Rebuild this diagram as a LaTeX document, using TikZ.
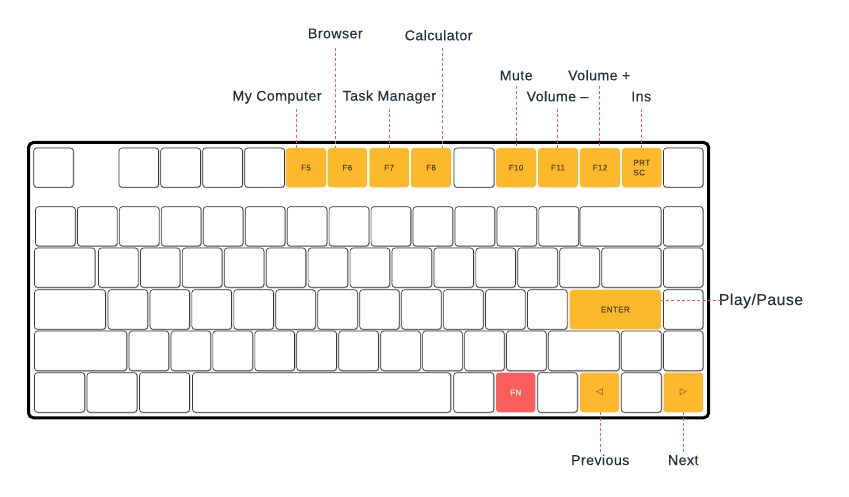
\documentclass[tikz,border=0pt]{standalone}
\usepackage{fontspec}
\setmainfont{Liberation Sans}
\newfontfamily\lblfont[LetterSpace=3,FakeBold=0.12]{Liberation Sans}
\newfontfamily\keyfont[LetterSpace=5,FakeBold=0.45]{Liberation Sans}
\newfontfamily\symfont{DejaVu Sans}
\definecolor{keyorange}{HTML}{FDB92C}
\definecolor{keyred}{HTML}{FB5C5C}
\definecolor{keyedge}{HTML}{3A3A3A}
\definecolor{keyshade}{HTML}{ABABAB}
\definecolor{dashred}{HTML}{DE5F5F}
\definecolor{lbltext}{HTML}{2A2E3A}
\definecolor{captext}{HTML}{54400F}
\tikzset{
  keybase/.style={rectangle,rounded corners=3pt,inner sep=0pt,outer sep=0pt,align=left,
    font=\keyfont\fontsize{8}{10}\selectfont,text=captext},
  plainkey/.style={keybase,fill=white,draw=keyedge,line width=.65pt,
    preaction={draw=keyshade,line width=1.2pt,transform canvas={xshift=.35pt,yshift=-.35pt}}},
  fnkey/.style={keybase,fill=keyorange},
  redkey/.style={keybase,fill=keyred,text=white},
  lbl/.style={anchor=base,inner sep=0pt,outer sep=0pt,text=lbltext,font=\lblfont\fontsize{14.2}{14}\selectfont},
  biglbl/.style={lbl,font=\lblfont\fontsize{15.8}{16}\selectfont},
  conn/.style={draw=dashred,line width=.75pt,dash pattern=on 3pt off 2.2pt},
  frame/.style={draw=black,line width=3pt,rounded corners=5pt},
}
\newcommand{\kc}[7]{\node[#6,minimum width={(#3-(#2))*1pt},minimum height={(#5-(#4))*1pt}] (#1) at ({(#2+#3)/2},{(#4+#5)/2}) {#7};}
\begin{document}
\begin{tikzpicture}[x=1pt,y=-1pt]
\useasboundingbox (0,0) rectangle (849,497);
\fill[white] (0,0) rectangle (849,497);
\draw[frame] (28.5,142.5) rectangle (708.7,417.8);
% function row
\kc{esc}{33.7}{73.3}{148}{187.3}{plainkey}{}
\kc{fa}{119}{158.5}{148}{187.3}{plainkey}{}
\kc{fb}{160.7}{200.5}{148}{187.3}{plainkey}{}
\kc{fc}{202.7}{242.5}{148}{187.3}{plainkey}{}
\kc{fd}{244.7}{284.5}{148}{187.3}{plainkey}{}
\kc{ffive}{286}{326}{148}{187.3}{fnkey}{F5}
\kc{fsix}{327.7}{367}{148}{187.3}{fnkey}{F6}
\kc{fseven}{369.3}{409}{148}{187.3}{fnkey}{F7}
\kc{feight}{411}{451}{148}{187.3}{fnkey}{F8}
\kc{fnine}{454}{494}{148}{187.3}{plainkey}{}
\kc{ften}{496}{536}{148}{187.3}{fnkey}{F10}
\kc{feleven}{538}{578}{148}{187.3}{fnkey}{F11}
\kc{ftwelve}{580}{620}{148}{187.3}{fnkey}{F12}
\kc{prt}{622}{661.5}{148}{187.3}{fnkey}{PRT\\SC}
\kc{fend}{663.5}{703}{148}{187.3}{plainkey}{}
% number row
\foreach \i in {0,...,12}{\pgfmathsetmacro\xa{35.5+41.95*\i}
  \kc{ra\i}{\xa}{\xa+39.7}{206.7}{246}{plainkey}{}}
\kc{rawide}{580}{661}{206.7}{246}{plainkey}{}
\kc{raend}{663.5}{703}{206.7}{246}{plainkey}{}
% second row
\kc{rbtab}{34.5}{95}{248}{287.3}{plainkey}{}
\foreach \i in {0,...,11}{\pgfmathsetmacro\xa{98.5+41.93*\i}
  \kc{rb\i}{\xa}{\xa+39.6}{248}{287.3}{plainkey}{}}
\kc{rbwide}{601.7}{661}{248}{287.3}{plainkey}{}
\kc{rbend}{663.5}{703}{248}{287.3}{plainkey}{}
% third row
\kc{rccaps}{34.5}{105.5}{289.7}{329.3}{plainkey}{}
\foreach \i in {0,...,10}{\pgfmathsetmacro\xa{108+41.95*\i}
  \kc{rc\i}{\xa}{\xa+39.6}{289.7}{329.3}{plainkey}{}}
\kc{enter}{569.7}{661}{289.7}{329.3}{fnkey}{ENTER}
\kc{rcend}{663.5}{703}{289.7}{329.3}{plainkey}{}
% fourth row
\kc{rdshift}{34.5}{126.7}{331}{370.7}{plainkey}{}
\foreach \i in {0,...,9}{\pgfmathsetmacro\xa{129+41.95*\i}
  \kc{rd\i}{\xa}{\xa+39.7}{331}{370.7}{plainkey}{}}
\kc{rdwide}{548.3}{619.3}{331}{370.7}{plainkey}{}
\kc{rdup}{621.3}{661.3}{331}{370.7}{plainkey}{}
\kc{rdend}{663.5}{703}{331}{370.7}{plainkey}{}
% bottom row
\kc{rea}{34.5}{84.7}{372.7}{412.3}{plainkey}{}
\kc{reb}{87}{137}{372.7}{412.3}{plainkey}{}
\kc{rec}{139.5}{189.5}{372.7}{412.3}{plainkey}{}
\kc{respace}{192.5}{450.7}{372.7}{412.3}{plainkey}{}
\kc{red}{453.7}{493.7}{372.7}{412.3}{plainkey}{}
\kc{fn}{496}{535.3}{372.7}{412.3}{redkey}{FN}
\kc{ree}{537.7}{577.3}{372.7}{412.3}{plainkey}{}
\kc{prev}{580}{619}{372.7}{412.3}{fnkey}{\symfont\fontsize{9}{9}\selectfont ◁}
\kc{ref}{621.3}{661.3}{372.7}{412.3}{plainkey}{}
\kc{next}{663.5}{703}{372.7}{412.3}{fnkey}{\symfont\fontsize{9}{9}\selectfont ▷}
% labels
\node[lbl] (lmy) at (277,100.7) {My Computer};
\node[lbl] (lbr) at (335.3,38.3) {Browser};
\node[lbl] (lca) at (438.6,40.3) {Calculator};
\node[lbl] (lta) at (389.3,100.7) {Task Manager};
\node[lbl] (lmu) at (516.2,80.3) {Mute};
\node[lbl] (lvp) at (599.2,80.3) {Volume +};
\node[lbl] (lvm) at (557.5,101.3) {Volume –};
\node[lbl] (lin) at (641.2,101.3) {Ins};
\node[biglbl] (lpl) at (761,305) {Play/Pause};
\node[lbl] (lpr) at (600.2,465) {Previous};
\node[lbl] (lne) at (683.2,465) {Next};
% free ends of the connectors
\coordinate (cmy) at (296.3,108.7);
\coordinate (cbr) at (335.3,47.7);
\coordinate (cta) at (389.3,108.7);
\coordinate (cca) at (442.3,47.7);
\coordinate (cmu) at (516.3,86);
\coordinate (cvm) at (557.3,108.7);
\coordinate (cvp) at (599.3,86);
\coordinate (cin) at (641.3,108.7);
\coordinate (cpr) at (600.3,451.7);
\coordinate (cne) at (683.3,451.7);
\coordinate (cpl) at (721.7,300);
% connectors
\draw[conn] (cmy) -- (cmy |- ffive.north);
\draw[conn] (cbr) -- (cbr |- fsix.north);
\draw[conn] (cta) -- (cta |- fseven.north);
\draw[conn] (cca) -- (cca |- feight.north);
\draw[conn] (cmu) -- (cmu |- ften.north);
\draw[conn] (cvm) -- (cvm |- feleven.north);
\draw[conn] (cvp) -- (cvp |- ftwelve.north);
\draw[conn] (cin) -- (cin |- prt.north);
\draw[conn] (cpr |- prev.south) -- (cpr);
\draw[conn] (cne |- next.south) -- (cne);
\draw[conn] (cpl -| enter.east) -- (cpl);
\end{tikzpicture}
\end{document}
